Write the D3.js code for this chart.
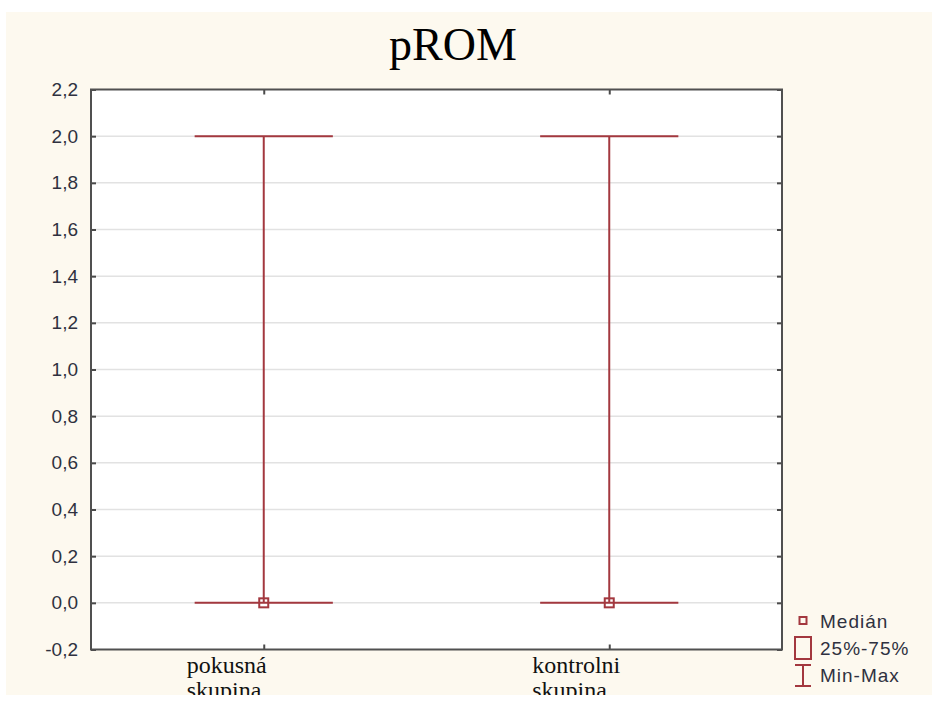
<!DOCTYPE html>
<html>
<head>
<meta charset="utf-8">
<script src="https://cdn.jsdelivr.net/npm/d3@7"></script>
<style>
  html, body { margin: 0; padding: 0; background: #ffffff; }
  svg { display: block; }
</style>
</head>
<body>
<svg id="chart" width="944" height="702"></svg>
<script>
// Box-plot summary per group (median, quartiles, range)
const groups   = ["pokusná skupina", "kontrolni skupina"];
const medians  = [0.0, 0.0];
const q1s      = [0.0, 0.0];
const q3s      = [0.0, 0.0];
const mins     = [0.0, 0.0];
const maxs     = [2.0, 2.0];
const yTicks   = [-0.2, 0.0, 0.2, 0.4, 0.6, 0.8, 1.0, 1.2, 1.4, 1.6, 1.8, 2.0, 2.2];
const legendLabels = ["Medián", "25%-75%", "Min-Max"];

const RED = "#a3383f";
const svg = d3.select("#chart");

svg.append("defs").append("clipPath").attr("id", "page")
  .append("rect").attr("x", 6).attr("y", 12).attr("width", 926).attr("height", 683);

const page = svg.append("g").attr("clip-path", "url(#page)");
page.append("rect").attr("x", 6).attr("y", 12).attr("width", 926).attr("height", 683)
  .attr("fill", "#fdf9ef");

const plot = { left: 91, right: 782, top: 89.5, bottom: 649.5 };

const x = d3.scalePoint().domain(groups).range([plot.left, plot.right]).padding(0.5);
const y = d3.scaleLinear().domain([-0.2, 2.2]).range([plot.bottom, plot.top]);

// plot area
page.append("rect")
  .attr("x", plot.left).attr("y", plot.top)
  .attr("width", plot.right - plot.left).attr("height", plot.bottom - plot.top)
  .attr("fill", "#ffffff");

// gridlines
page.append("g").selectAll("line").data(yTicks.slice(1, -1)).join("line")
  .attr("x1", plot.left).attr("x2", plot.right)
  .attr("y1", d => y(d)).attr("y2", d => y(d))
  .attr("stroke", "#e2e2e2").attr("stroke-width", 1.5);

// axes with inward ticks
const fmt = d => d3.format(".1f")(d).replace(".", ",").replace("−", "-");
const axisStyle = g => {
  g.select(".domain").remove();
  g.selectAll(".tick line").attr("stroke", "#4a4a4a").attr("stroke-width", 2);
};
page.append("g").attr("transform", `translate(${plot.left},0)`)
  .call(d3.axisRight(y).tickValues(yTicks).tickSize(5).tickFormat(""))
  .call(axisStyle);
page.append("g").attr("transform", `translate(${plot.right},0)`)
  .call(d3.axisLeft(y).tickValues(yTicks).tickSize(5).tickFormat(""))
  .call(axisStyle);
page.append("g").attr("transform", `translate(0,${plot.top})`)
  .call(d3.axisBottom(x).tickSize(5).tickFormat(""))
  .call(axisStyle);
page.append("g").attr("transform", `translate(0,${plot.bottom})`)
  .call(d3.axisTop(x).tickSize(5).tickFormat(""))
  .call(axisStyle);

// y tick labels
page.append("g").selectAll("text").data(yTicks).join("text")
  .attr("x", 78).attr("y", d => y(d) + 6.5)
  .attr("text-anchor", "end")
  .attr("font-family", "Liberation Sans, Arial, sans-serif")
  .attr("font-size", 19)
  .attr("fill", "#2f3140")
  .text(fmt);

// frame
page.append("rect")
  .attr("x", plot.left).attr("y", plot.top)
  .attr("width", plot.right - plot.left).attr("height", plot.bottom - plot.top)
  .attr("fill", "none").attr("stroke", "#505050").attr("stroke-width", 2);

// boxes, whiskers and medians
const capW = x.step() * 0.4;
const boxW = x.step() * 0.2;
const data = groups.map((g, i) => ({
  g, med: medians[i], q1: q1s[i], q3: q3s[i], min: mins[i], max: maxs[i]
}));
const marks = page.append("g").attr("stroke", RED).attr("stroke-width", 2).attr("fill", "none");
marks.selectAll(".whisker").data(data).join("line")
  .attr("x1", d => x(d.g)).attr("x2", d => x(d.g))
  .attr("y1", d => y(d.min)).attr("y2", d => y(d.max));
marks.selectAll(".capMax").data(data).join("line")
  .attr("x1", d => x(d.g) - capW / 2).attr("x2", d => x(d.g) + capW / 2)
  .attr("y1", d => y(d.max)).attr("y2", d => y(d.max));
marks.selectAll(".capMin").data(data).join("line")
  .attr("x1", d => x(d.g) - capW / 2).attr("x2", d => x(d.g) + capW / 2)
  .attr("y1", d => y(d.min)).attr("y2", d => y(d.min));
marks.selectAll(".box").data(data).join("rect")
  .attr("x", d => x(d.g) - boxW / 2).attr("width", boxW)
  .attr("y", d => y(d.q3)).attr("height", d => y(d.q1) - y(d.q3));
marks.selectAll(".median").data(data).join("rect")
  .attr("x", d => x(d.g) - 4.5).attr("y", d => y(d.med) - 4.5)
  .attr("width", 9).attr("height", 9);

// category labels, wrapped onto two lines below each tick
const catFont = "Liberation Serif, Times New Roman, serif";
groups.forEach(g => {
  const t = page.append("text")
    .attr("font-family", catFont).attr("font-size", 24).attr("fill", "#111");
  g.split(" ").forEach((word, k) => {
    t.append("tspan").attr("x", x(g) - 77).attr("y", 673 + k * 25).text(word);
  });
});

// title
page.append("text")
  .attr("x", 453).attr("y", 60)
  .attr("text-anchor", "middle")
  .attr("font-family", catFont)
  .attr("font-size", 46)
  .attr("fill", "#000")
  .text("pROM");

// legend
const lg = page.append("g");
const lx = 803;
lg.append("rect").attr("x", lx - 3.5).attr("y", 617).attr("width", 7).attr("height", 7)
  .attr("fill", "none").attr("stroke", RED).attr("stroke-width", 2);
lg.append("rect").attr("x", lx - 8).attr("y", 637).attr("width", 16).attr("height", 22)
  .attr("fill", "none").attr("stroke", RED).attr("stroke-width", 2);
lg.append("line").attr("x1", lx).attr("x2", lx).attr("y1", 665).attr("y2", 686)
  .attr("stroke", RED).attr("stroke-width", 2);
lg.append("line").attr("x1", lx - 8).attr("x2", lx + 8).attr("y1", 665).attr("y2", 665)
  .attr("stroke", RED).attr("stroke-width", 2);
lg.append("line").attr("x1", lx - 8).attr("x2", lx + 8).attr("y1", 686).attr("y2", 686)
  .attr("stroke", RED).attr("stroke-width", 2);
lg.selectAll("text").data(legendLabels).join("text")
  .attr("x", 820).attr("y", (d, i) => 628 + i * 27)
  .attr("font-family", "Liberation Sans, Arial, sans-serif")
  .attr("font-size", 19)
  .attr("letter-spacing", 1)
  .attr("fill", "#2f3140")
  .text(d => d);
</script>
</body>
</html>
